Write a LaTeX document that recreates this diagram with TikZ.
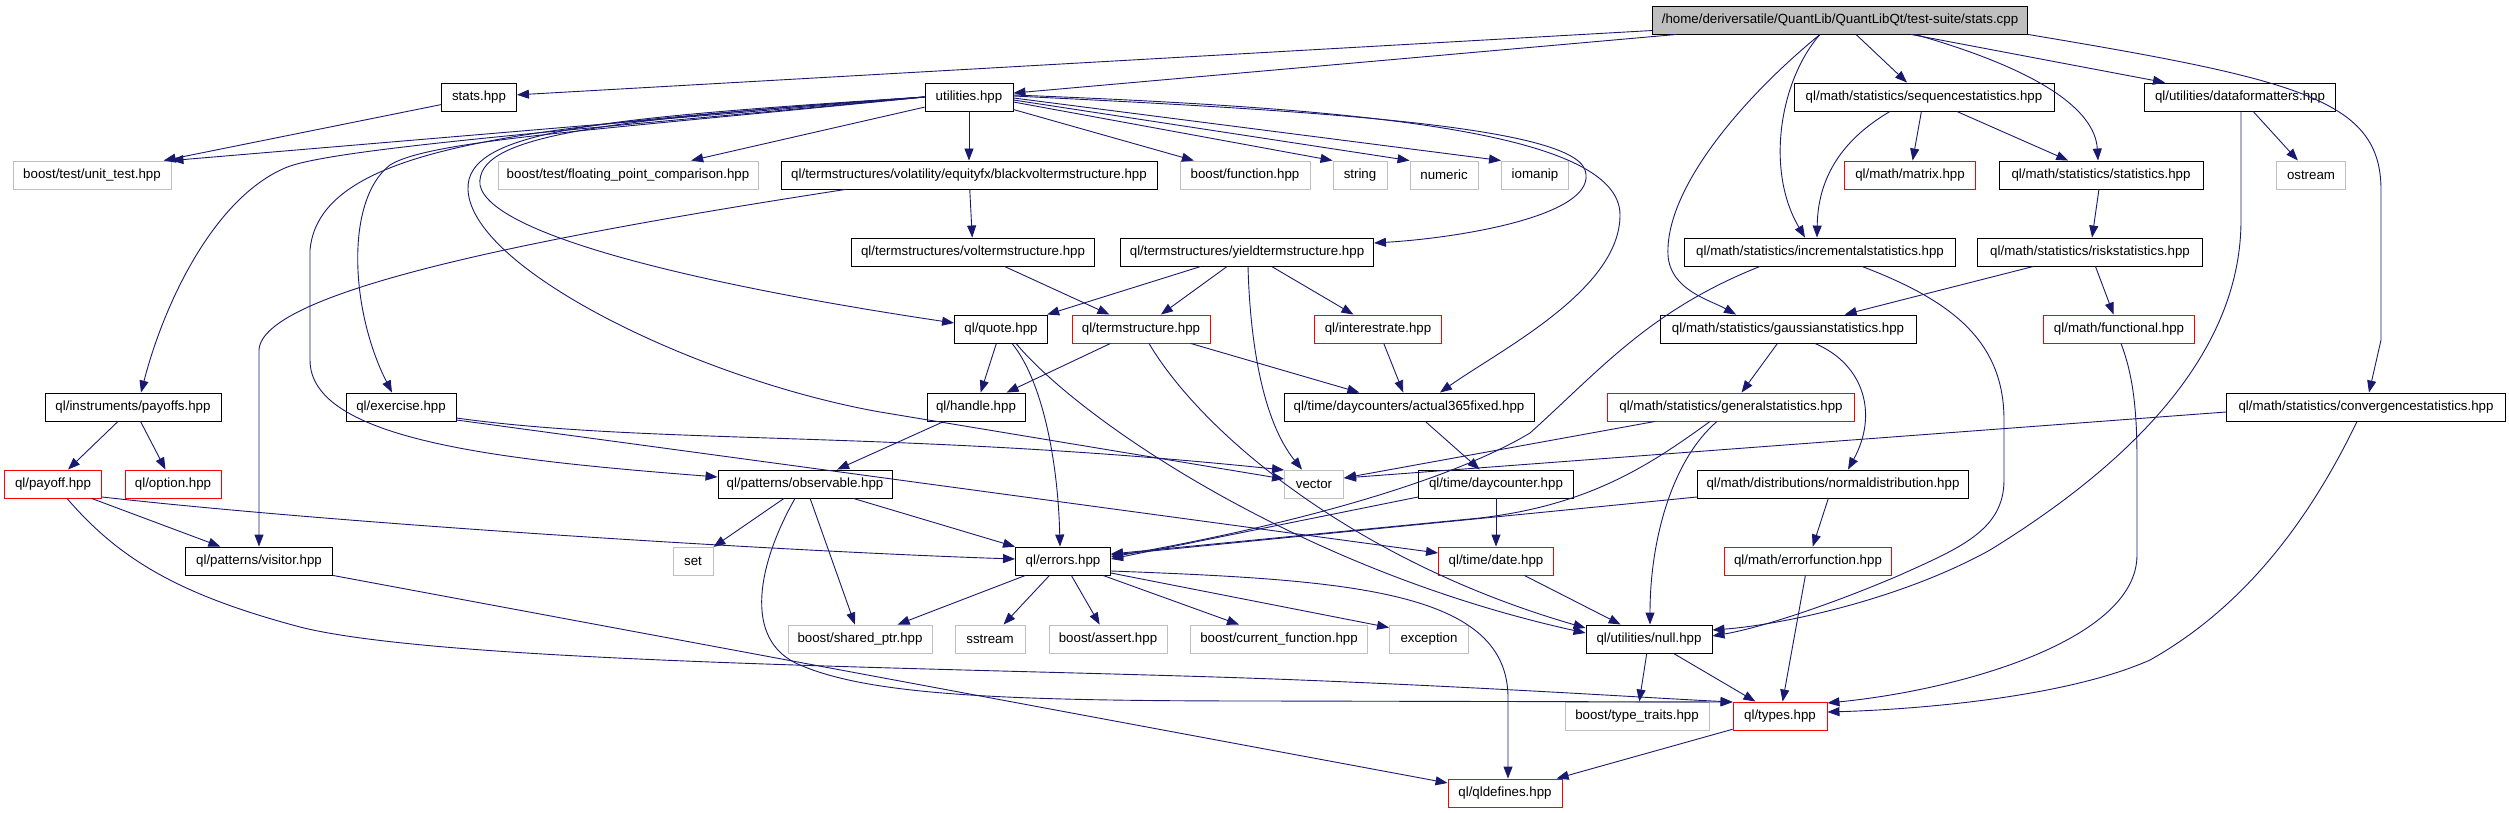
\documentclass[tikz,border=0pt]{standalone}
\usepackage{fontspec}
\setmainfont{Liberation Sans}
\usetikzlibrary{arrows.meta,calc}
\newcommand\nfont{\fontsize{13.3}{16}\selectfont}
\definecolor{edgec}{RGB}{25,25,112}
\definecolor{grayb}{RGB}{191,191,191}
\definecolor{redb}{RGB}{255,0,0}
\begin{document}
\begin{tikzpicture}[x=1pt,y=-1pt,
  base/.style={rectangle, minimum height=28pt, inner sep=0pt, line width=0.9pt, fill=white, font=\nfont},
  blk/.style={base, draw=black},
  gry/.style={base, draw=grayb},
  rd/.style={base, draw=redb},
  e/.style={draw=edgec, line width=0.9pt, -{Triangle[length=12pt,width=9pt]}}]
\useasboundingbox (0,0) rectangle (2509,813);
% row 0
\node[blk, fill=grayb, minimum width=375pt] (cpp) at (1840,20) {/home/deriversatile/QuantLib/QuantLibQt/test-suite/stats.cpp};
% row 1
\node[blk, minimum width=75pt] (statshpp) at (479,97) {stats.hpp};
\node[blk, minimum width=88pt] (util) at (969,97) {utilities.hpp};
\node[blk, minimum width=260pt] (seq) at (1924,97) {ql/math/statistics/sequencestatistics.hpp};
\node[blk, minimum width=191pt] (dataf) at (2240,97) {ql/utilities/dataformatters.hpp};
% row 2
\node[gry, minimum width=158pt] (unittest) at (92,175) {boost/test/unit\_test.hpp};
\node[gry, minimum width=260pt] (fpc) at (628,175) {boost/test/floating\_point\_comparison.hpp};
\node[blk, minimum width=376pt] (blackvol) at (969,175) {ql/termstructures/volatility/equityfx/blackvoltermstructure.hpp};
\node[gry, minimum width=130pt] (bfunc) at (1245,175) {boost/function.hpp};
\node[gry, minimum width=54pt] (string) at (1360,175) {string};
\node[gry, minimum width=68pt] (numeric) at (1444,175) {numeric};
\node[gry, minimum width=67pt] (iomanip) at (1535,175) {iomanip};
\node[rd, minimum width=131pt] (matrix) at (1910,175) {ql/math/matrix.hpp};
\node[blk, minimum width=204pt] (statistics) at (2101,175) {ql/math/statistics/statistics.hpp};
\node[gry, minimum width=69pt] (ostream) at (2311,175) {ostream};
% row 3
\node[blk, minimum width=243pt] (volts) at (973,252) {ql/termstructures/voltermstructure.hpp};
\node[blk, minimum width=253pt] (yieldts) at (1247,252) {ql/termstructures/yieldtermstructure.hpp};
\node[blk, minimum width=271pt] (incr) at (1820,252) {ql/math/statistics/incrementalstatistics.hpp};
\node[blk, minimum width=225pt] (risk) at (2090,252) {ql/math/statistics/riskstatistics.hpp};
% row 4
\node[blk, minimum width=93pt] (quote) at (1001,329) {ql/quote.hpp};
\node[rd, minimum width=138pt] (termst) at (1141,329) {ql/termstructure.hpp};
\node[rd, minimum width=127pt] (irate) at (1378,329) {ql/interestrate.hpp};
\node[blk, minimum width=256pt] (gauss) at (1788,329) {ql/math/statistics/gaussianstatistics.hpp};
\node[rd, minimum width=151pt] (functional) at (2119,329) {ql/math/functional.hpp};
% row 5
\node[blk, minimum width=176pt] (payoffs) at (133,407) {ql/instruments/payoffs.hpp};
\node[blk, minimum width=110pt] (exercise) at (401,407) {ql/exercise.hpp};
\node[blk, minimum width=98pt] (handle) at (976,407) {ql/handle.hpp};
\node[blk, minimum width=250pt] (a365) at (1409,407) {ql/time/daycounters/actual365fixed.hpp};
\node[rd, minimum width=247pt] (general) at (1731,407) {ql/math/statistics/generalstatistics.hpp};
\node[blk, minimum width=279pt] (conv) at (2366,407) {ql/math/statistics/convergencestatistics.hpp};
% row 6
\node[rd, minimum width=97pt] (payoff) at (53,484) {ql/payoff.hpp};
\node[rd, minimum width=96pt] (option) at (173,484) {ql/option.hpp};
\node[blk, minimum width=174pt] (observable) at (805,484) {ql/patterns/observable.hpp};
\node[gry, minimum width=59pt] (vector) at (1314,484) {vector};
\node[blk, minimum width=155pt] (daycounter) at (1496,484) {ql/time/daycounter.hpp};
\node[blk, minimum width=271pt] (normal) at (1833,484) {ql/math/distributions/normaldistribution.hpp};
% row 7
\node[blk, minimum width=147pt] (visitor) at (259,561) {ql/patterns/visitor.hpp};
\node[gry, minimum width=40pt] (set) at (693,561) {set};
\node[blk, minimum width=95pt] (errors) at (1063,561) {ql/errors.hpp};
\node[rd, minimum width=115pt] (date) at (1496,561) {ql/time/date.hpp};
\node[rd, minimum width=167pt] (errfunc) at (1808,561) {ql/math/errorfunction.hpp};
% row 8
\node[gry, minimum width=144pt] (sharedptr) at (860,639) {boost/shared\_ptr.hpp};
\node[gry, minimum width=70pt] (sstream) at (990,639) {sstream};
\node[gry, minimum width=118pt] (assert) at (1108,639) {boost/assert.hpp};
\node[gry, minimum width=177pt] (curfunc) at (1279,639) {boost/current\_function.hpp};
\node[gry, minimum width=79pt] (exception) at (1429,639) {exception};
\node[blk, minimum width=126pt] (null) at (1649,639) {ql/utilities/null.hpp};
% row 9
\node[gry, minimum width=144pt] (typetraits) at (1637,716) {boost/type\_traits.hpp};
\node[rd, minimum width=94pt] (types) at (1780,716) {ql/types.hpp};
% row 10
\node[rd, minimum width=114pt] (qldefines) at (1505,793) {ql/qldefines.hpp};

% ---- edges from stats.cpp
\draw[e] (cpp) -- (statshpp);
\draw[e] (cpp) -- (util);
\draw[e] ($(cpp.south)+(16,0)$) -- ($(seq.north)+(-17,0)$);
\draw[e] ($(cpp.south)+(71,0)$) -- ($(dataf.north)+(-75,0)$);
\draw[e] ($(cpp.south)+(75,0)$) .. controls (2040,70) and (2095,110) .. ($(statistics.north)+(-3,0)$);
\draw[e] (cpp.south east) .. controls (2300,80) and (2381,100) .. (2381,190) -- (2381,340) -- ($(conv.north)+(3,0)$);
\draw[e] ($(cpp.south)+(-20,0)$) .. controls (1780,80) and (1765,170) .. ($(incr.north)+(-15,0)$);
\draw[e] ($(cpp.south)+(-20,0)$) .. controls (1740,100) and (1665,190) .. (1668,255) .. controls (1670,290) and (1710,300) .. ($(gauss.north)+(-52,0)$);
% ---- stats.hpp
\draw[e] (statshpp) -- (unittest);
% ---- utilities.hpp
\draw[e] (util) -- (blackvol);
\draw[e] (util) -- (fpc);
\draw[e] (util) -- (bfunc);
\draw[e] ($(util.east)+(0,5)$) -- (string.north west);
\draw[e] ($(util.east)+(0,3)$) -- (numeric.north west);
\draw[e] ($(util.east)+(0,1)$) -- (iomanip.north west);
\draw[e] (util.west) -- (unittest.north east);
\draw[e] ($(util.east)+(0,-1)$) .. controls (1300,110) and (1570,125) .. (1585,170) .. controls (1600,215) and (1460,238) .. ($(yieldts.east)+(0,-9)$);
\draw[e] ($(util.east)+(0,-2)$) .. controls (1350,108) and (1620,130) .. (1620,215) .. controls (1620,290) and (1500,350) .. ($(a365.north)+(31,0)$);
\draw[e] (util.west) .. controls (600,128) and (330,148) .. (285,168) .. controls (215,198) and (165,300) .. ($(payoffs.north)+(8,0)$);
\draw[e] (util.west) .. controls (600,130) and (430,140) .. (390,165) .. controls (345,200) and (350,310) .. ($(exercise.north)+(-9,0)$);
\draw[e] (util.west) .. controls (550,125) and (320,140) .. (310,250) -- (310,360) .. controls (310,440) and (500,460) .. ($(observable.west)+(0,-7)$);
\draw[e] (util.west) .. controls (600,118) and (465,130) .. (468,190) .. controls (472,270) and (700,380) .. (880,412) -- ($(vector.west)+(0,-5)$);
\draw[e] (util.west) .. controls (600,120) and (475,135) .. (480,185) .. controls (490,235) and (700,285) .. ($(quote.west)+(0,-6)$);
% ---- statistics chain
\draw[e] (seq) -- (matrix);
\draw[e] (seq) -- (statistics);
\draw[e] ($(seq.south)+(-34,0)$) .. controls (1850,135) and (1818,170) .. ($(incr.north)+(-3,0)$);
\draw[e] (dataf) -- (ostream);
\draw[e] ($(dataf.south)+(1,0)$) -- (2241,220) .. controls (2241,360) and (2120,470) .. (1990,550) .. controls (1900,600) and (1780,625) .. ($(null.east)+(0,-9)$);
\draw[e] (statistics) -- (risk);
\draw[e] (risk) -- (gauss);
\draw[e] (risk) -- (functional);
\draw[e] ($(incr.south)+(-60,0)$) .. controls (1650,310) and (1600,370) .. (1530,433) .. controls (1460,475) and (1320,520) .. ($(errors.east)+(0,-4)$);
\draw[e] ($(incr.south)+(42,0)$) .. controls (1950,300) and (2004,340) .. (2004,420) -- (2004,480) .. controls (2004,530) and (1960,548) .. (1900,575) .. controls (1830,605) and (1760,628) .. ($(null.east)+(0,-3)$);
\draw[e] (gauss) -- (general);
\draw[e] ($(gauss.south)+(27,0)$) .. controls (1865,365) and (1878,415) .. ($(normal.north)+(15,0)$);
\draw[e] ($(general.south west)+(48,0)$) -- ($(vector.east)+(0,-6)$);
\draw[e] ($(general.south)+(-21,0)$) .. controls (1650,465) and (1590,505) .. (1480,518) -- ($(errors.east)+(0,-7)$);
\draw[e] ($(general.south)+(-14,0)$) .. controls (1672,460) and (1650,540) .. ($(null.north)+(1,0)$);
\draw[e] ($(conv.west)+(0,5)$) -- ($(vector.east)+(0,-6)$);
\draw[e] ($(conv.south)+(-9,0)$) .. controls (2300,540) and (2230,615) .. (2150,660) .. controls (2060,700) and (1900,710) .. ($(types.east)+(0,-4)$);
\draw[e] ($(functional.south)+(2,0)$) .. controls (2133,375) and (2137,410) .. (2137,460) -- (2137,555) .. controls (2137,640) and (1960,690) .. ($(types.east)+(0,-13)$);
\draw[e] (errfunc) -- (types);
\draw[e] (normal) -- (errfunc);
\draw[e] ($(normal.west)+(0,13)$) -- ($(errors.east)+(0,-6)$);
% ---- time / termstructures
\draw[e] (daycounter) -- (date);
\draw[e] ($(daycounter.west)+(0,13)$) -- ($(errors.east)+(0,-2)$);
\draw[e] (a365) -- (daycounter);
\draw[e] (irate) -- (a365);
\draw[e] (yieldts) -- (quote);
\draw[e] (yieldts) -- (termst);
\draw[e] (yieldts) -- (irate);
\draw[e] ($(yieldts.south)+(1,0)$) .. controls (1250,340) and (1262,420) .. ($(vector.north)+(-12,0)$);
\draw[e] (volts) -- (termst);
\draw[e] (blackvol) -- (volts);
\draw[e] ($(blackvol.south west)+(65,0)$) .. controls (550,235) and (262,290) .. (259,350) -- (visitor.north);
\draw[e] (quote) -- (handle);
\draw[e] ($(quote.south)+(11,0)$) .. controls (1042,380) and (1058,460) .. ($(errors.north)+(-3,0)$);
\draw[e] ($(quote.south)+(15,0)$) .. controls (1080,420) and (1300,570) .. ($(null.west)+(0,-6)$);
\draw[e] (termst) -- (handle);
\draw[e] (termst) -- (a365);
\draw[e] ($(termst.south)+(8,0)$) .. controls (1200,430) and (1350,560) .. ($(null.west)+(0,-11)$);
\draw[e] (handle) -- (observable);
% ---- patterns / payoff
\draw[e] (observable) -- (set);
\draw[e] (observable) -- (sharedptr);
\draw[e] (observable) -- (errors);
\draw[e] ($(observable.south)+(-10,0)$) .. controls (760,560) and (740,640) .. (800,665) .. controls (870,695) and (1000,701) .. (1260,701) -- ($(types.west)+(0,-14)$);
\draw[e] (payoff) -- (visitor);
\draw[e] ($(payoff.east)+(0,13)$) .. controls (350,525) and (800,552) .. ($(errors.west)+(0,-2)$);
\draw[e] ($(payoff.south)+(14,0)$) .. controls (120,560) and (180,595) .. (300,627) .. controls (450,665) and (1000,668) .. (1300,680) .. controls (1500,688) and (1650,698) .. ($(types.west)+(0,-14)$);
\draw[e] (payoffs) -- (payoff);
\draw[e] (payoffs) -- (option);
\draw[e] ($(exercise.east)+(0,11)$) .. controls (650,445) and (900,430) .. ($(vector.west)+(0,-14)$);
\draw[e] ($(exercise.east)+(0,13)$) -- ($(date.west)+(0,-8)$);
\draw[e] (visitor.south east) -- ($(qldefines.west)+(0,-10)$);
% ---- errors and below
\draw[e] (errors) -- (sharedptr);
\draw[e] (errors) -- (sstream);
\draw[e] (errors) -- (assert);
\draw[e] (errors) -- (curfunc);
\draw[e] ($(errors.east)+(0,12)$) -- ($(exception.north west)+(0,3)$);
\draw[e] ($(errors.east)+(0,10)$) .. controls (1350,580) and (1510,590) .. (1508,700) -- ($(qldefines.north)+(3,0)$);
\draw[e] (date) -- (null);
\draw[e] (null) -- (typetraits);
\draw[e] (null) -- (types);
\draw[e] (types) -- (qldefines);
\end{tikzpicture}
\end{document}
